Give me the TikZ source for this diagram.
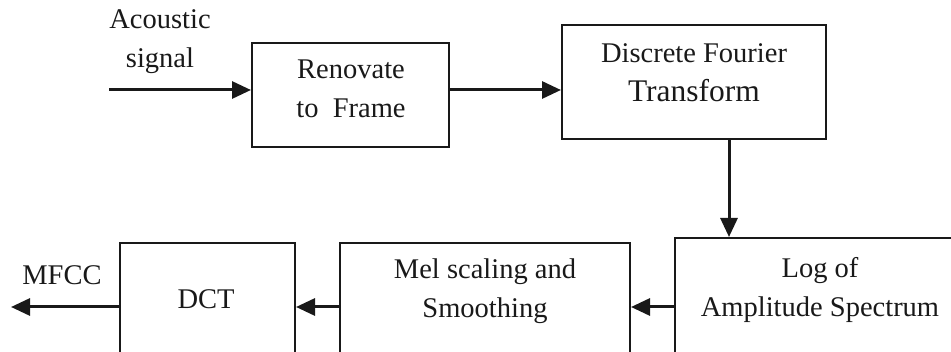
\documentclass[tikz,border=0pt]{standalone}
\usepackage{fontspec}
\setmainfont{Liberation Serif}
\usetikzlibrary{arrows.meta}
\begin{document}
\begin{tikzpicture}[x=1pt,y=-1pt,
  block/.style={draw=black!90,line width=2pt,rectangle,inner sep=0pt,anchor=north west},
  txt/.style={align=center,inner sep=0pt,font=\fontsize{28.5}{39}\selectfont,text=black!90},
  arr/.style={draw=black!90,line width=3pt,-{Triangle[length=19pt,width=17pt]}}]
\useasboundingbox (0,0) rectangle (951,352);
\clip (0,0) rectangle (951,352);

% processing blocks (the lower row runs past the bottom edge)
\node[block,minimum width=197pt,minimum height=104pt] (frame) at (251,42) {};
\node[block,minimum width=264pt,minimum height=114pt] (dft)   at (561,24) {};
\node[block,minimum width=300pt,minimum height=150pt] (log)   at (674,237) {};
\node[block,minimum width=290pt,minimum height=150pt] (mel)   at (339,242) {};
\node[block,minimum width=175pt,minimum height=150pt] (dct)   at (119,242) {};

% block captions
\node[txt] (frametxt) at (351,89)  {Renovate\\to\ \ Frame};
\node[txt] (dfttxt)   at (694,73)  {Discrete Fourier\\{\fontsize{31.5}{39}\selectfont Transform}};
\node[txt] (logtxt)   at (820,290) {Log of\\Amplitude Spectrum};
\node[txt] (meltxt)   at (485,291) {Mel scaling and\\Smoothing};
\node[txt] (dcttxt)   at (206,299) {DCT};

% input and output labels
\node[txt] (acoustic) at (160,42)  {Acoustic\\signal};
\node[txt] (mfcc)     at (62,275)  {MFCC};

% free ends and the lower signal row
\coordinate (src)  at (109,90);
\coordinate (sink) at (11,307);
\coordinate (row)  at (0,307);
\coordinate (down) at (729,0);

% signal flow
\draw[arr] (src) -- (frame.west |- src);
\draw[arr] (frame.east |- src) -- (dft.west |- src);
\draw[arr] (dft.south -| down) -- (log.north -| down);
\draw[arr] (log.west |- row) -- (mel.east |- row);
\draw[arr] (mel.west |- row) -- (dct.east |- row);
\draw[arr] (dct.west |- row) -- (sink);
\end{tikzpicture}
\end{document}
